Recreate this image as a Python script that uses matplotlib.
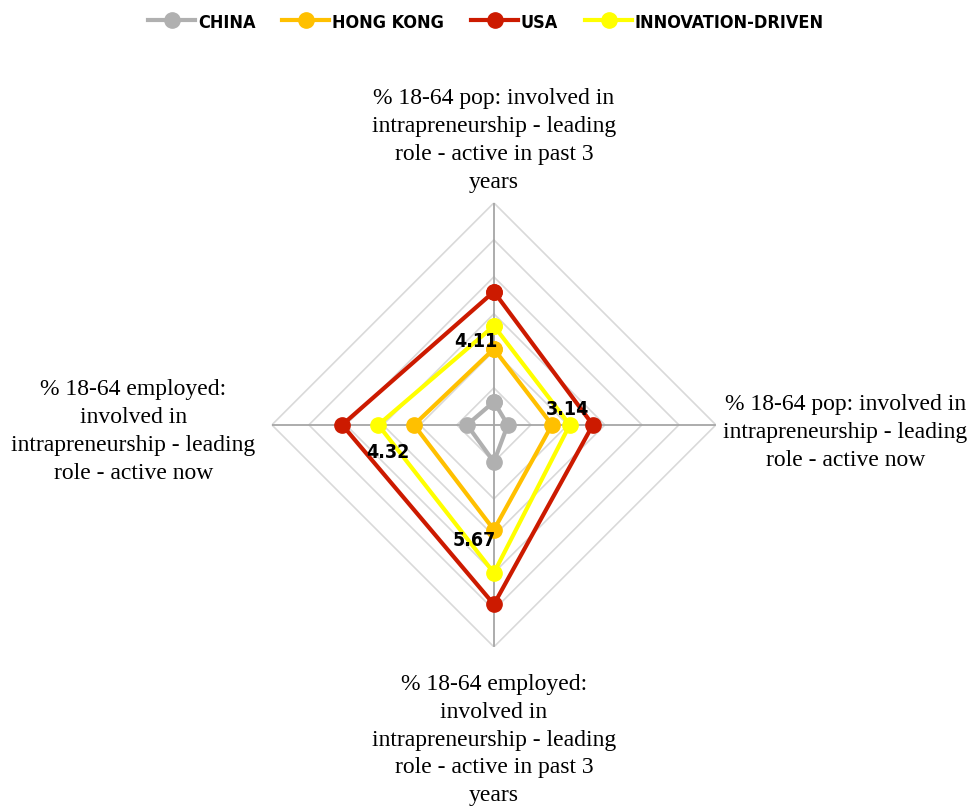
import numpy as np
import matplotlib
matplotlib.use('Agg')
import matplotlib.pyplot as plt

# axis labels, clockwise from top
labels = ['% 18-64 pop: involved in\nintrapreneurship - leading\nrole - active in past 3\nyears',
          '% 18-64 pop: involved in\nintrapreneurship - leading\nrole - active now',
          '% 18-64 employed:\ninvolved in\nintrapreneurship - leading\nrole - active in past 3\nyears',
          '% 18-64 employed:\ninvolved in\nintrapreneurship - leading\nrole - active now']

series = ['CHINA', 'HONG KONG', 'USA', 'INNOVATION-DRIVEN']
china = [1.25, 0.75, 2.0, 1.45]
hong_kong = [4.11, 3.14, 5.67, 4.32]
usa = [7.2, 5.35, 9.7, 8.2]
innovation = [5.35, 4.1, 8.0, 6.25]

colors = ['#b0b0b0', '#ffc000', '#cc1a00', '#ffff00']
rings = [2, 4, 6, 8, 10, 12]

serif = ['Liberation Serif', 'DejaVu Serif']


def main():
    fig = plt.figure(figsize=(9.78, 8.12), dpi=100)
    ax = fig.add_axes([0.278, 0.202, 0.454, 0.547], polar=True)
    ax.set_theta_offset(np.pi / 2)
    ax.set_theta_direction(-1)

    theta = np.arange(4) * np.pi / 2
    th_closed = np.append(theta, theta[0])

    # diamond grid
    for r in rings:
        ax.plot(th_closed, [r] * 5, color='#d9d9d9', lw=1.2, zorder=1)
    for t in theta:
        ax.plot([t, t], [0, 12], color='#a6a6a6', lw=1.3, zorder=1)

    for name, vals, c in zip(series, [china, hong_kong, usa, innovation], colors):
        v = np.append(vals, vals[0])
        ax.plot(th_closed, v, color=c, lw=3, marker='o', markersize=11,
                label=name, zorder=3)

    # data labels for Hong Kong (top, right, bottom, left)
    offsets = [(-13, 6), (11, 12), (-14, -7), (-19, -19)]
    for t, v, off in zip(theta, hong_kong, offsets):
        ax.annotate('%.2f' % v, (t, v), xytext=off, textcoords='offset points',
                    ha='center', va='center', fontsize=14, fontweight='bold',
                    fontstretch='condensed', family='DejaVu Sans',
                    color='black', zorder=5)

    # axis labels
    kw = dict(fontsize=17, family=serif, linespacing=1.43,
              textcoords='offset points', ha='center', annotation_clip=False)
    ax.annotate(labels[0], (0, 12.6), xytext=(0, 0), va='bottom', **kw)
    ax.annotate(labels[1], (np.pi / 2, 19.0), xytext=(0, -5), va='center', **kw)
    ax.annotate(labels[2], (np.pi, 13.4), xytext=(0, 0), va='top', **kw)
    ax.annotate(labels[3], (3 * np.pi / 2, 19.5), xytext=(0, -4), va='center', **kw)

    ax.set_ylim(0, 12)
    ax.set_xticks([])
    ax.set_yticks([])
    ax.grid(False)
    ax.spines['polar'].set_visible(False)

    handles, names = ax.get_legend_handles_labels()
    fig.legend(handles, names, loc='upper center', bbox_to_anchor=(0.497, 1.003),
               ncol=4, frameon=False, handlelength=2.6, handletextpad=0.15,
               columnspacing=1.5,
               prop={'family': 'DejaVu Sans', 'weight': 'bold',
                     'stretch': 'condensed', 'size': 13})

    fig.savefig('out.png', dpi=100)


if __name__ == "__main__":
    main()
